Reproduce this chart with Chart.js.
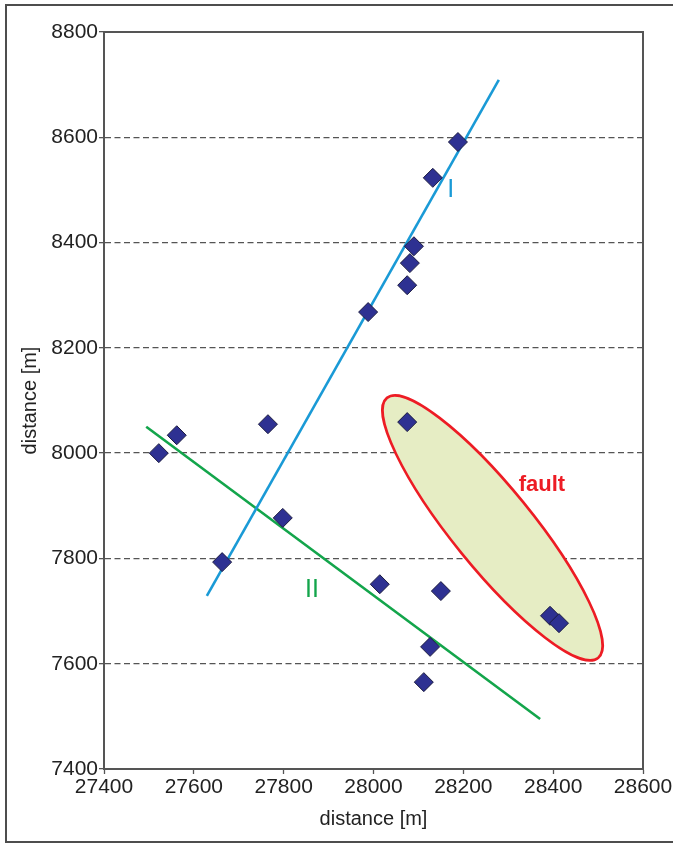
<!DOCTYPE html>
<html>
<head>
<meta charset="utf-8">
<title>distance [m]</title>
<script src="https://cdn.jsdelivr.net/npm/chart.js@4.4.0/dist/chart.umd.min.js"></script>
<style>
  html, body { margin: 0; padding: 0; background: #fff; overflow: hidden; }
  #wrap { position: relative; width: 673px; height: 844px; }
  #chart { position: absolute; left: 0; top: 0; }
  #frame {
    position: absolute; left: 5px; top: 4px; width: 720px; height: 839px;
    border: 2px solid #4d4d4d; box-sizing: border-box; pointer-events: none;
  }
</style>
</head>
<body>
<div id="wrap">
  <canvas id="chart" width="673" height="844"></canvas>
  <div id="frame"></div>
</div>
<script>
// Measured points (easting, northing) in metres
const pointX = [27522, 27562, 27765, 27798, 27663, 27988, 28075, 28081, 28090,
                28132, 28188, 28075, 28014, 28150, 28126, 28112, 28393, 28413];
const pointY = [8000, 8034, 8055, 7877, 7793, 8268, 8319, 8361, 8393,
                8523, 8591, 8059, 7751, 7738, 7632, 7565, 7691, 7677];

// Lineament I and II, end points
const lineIX = [27629, 28279];
const lineIY = [7729, 8709];
const lineIIX = [27494, 28371];
const lineIIY = [8050, 7495];

// Fault zone: the two ends of its long axis
const faultEndX = [28030, 28500];
const faultEndY = [8105, 7611];

// Axis ticks
const xTicks = [27400, 27600, 27800, 28000, 28200, 28400, 28600];
const yTicks = [7400, 7600, 7800, 8000, 8200, 8400, 8600, 8800];

// Text labels placed on the map
const labelText = ['I', 'II', 'fault'];
const labelX = [28172, 27863, 28375];
const labelY = [8500, 7740, 7939];

const FONT = "'Liberation Sans', Arial, Helvetica, sans-serif";
const AXIS = '#555555';
const BLUE = '#1a9ad6';
const GREEN = '#13a54b';
const RED = '#ed1c24';

const toXY = (xs, ys) => xs.map((x, i) => ({ x: x, y: ys[i] }));

const mapDecor = {
  id: 'mapDecor',
  beforeDatasetsDraw(chart) {
    const { ctx, chartArea: a, scales: { x, y } } = chart;
    // fault ellipse
    const x1 = x.getPixelForValue(faultEndX[0]), y1 = y.getPixelForValue(faultEndY[0]);
    const x2 = x.getPixelForValue(faultEndX[1]), y2 = y.getPixelForValue(faultEndY[1]);
    const cx = (x1 + x2) / 2, cy = (y1 + y2) / 2;
    const semiMajor = Math.hypot(x2 - x1, y2 - y1) / 2;
    const ang = Math.atan2(y2 - y1, x2 - x1);
    ctx.save();
    ctx.beginPath();
    ctx.ellipse(cx, cy, semiMajor, 40, ang, 0, Math.PI * 2);
    ctx.fillStyle = '#e6edc4';
    ctx.fill();
    ctx.lineWidth = 2.6;
    ctx.strokeStyle = RED;
    ctx.stroke();
    // plot frame
    ctx.lineWidth = 2;
    ctx.strokeStyle = AXIS;
    ctx.strokeRect(a.left, a.top, a.right - a.left, a.bottom - a.top);
    ctx.restore();
  },
  afterDatasetsDraw(chart) {
    const { ctx, scales: { x, y } } = chart;
    const styles = [
      { color: BLUE, font: '25px ' + FONT },
      { color: GREEN, font: '25px ' + FONT },
      { color: RED, font: 'bold 22px ' + FONT }
    ];
    ctx.save();
    ctx.textAlign = 'center';
    ctx.textBaseline = 'middle';
    labelText.forEach((t, i) => {
      ctx.fillStyle = styles[i].color;
      ctx.font = styles[i].font;
      ctx.fillText(t, x.getPixelForValue(labelX[i]), y.getPixelForValue(labelY[i]));
    });
    ctx.restore();
  }
};

new Chart(document.getElementById('chart'), {
  type: 'scatter',
  data: {
    datasets: [
      {
        label: 'points',
        data: toXY(pointX, pointY),
        pointStyle: 'rectRot',
        pointRadius: 9.5,
        pointHoverRadius: 9.5,
        backgroundColor: '#2e3192',
        borderColor: '#1c1c40',
        borderWidth: 1
      },
      {
        label: 'I',
        type: 'line',
        data: toXY(lineIX, lineIY),
        borderColor: BLUE,
        borderWidth: 2.6,
        pointRadius: 0,
        fill: false
      },
      {
        label: 'II',
        type: 'line',
        data: toXY(lineIIX, lineIIY),
        borderColor: GREEN,
        borderWidth: 2.6,
        pointRadius: 0,
        fill: false
      }
    ]
  },
  options: {
    responsive: false,
    animation: false,
    events: [],
    layout: { padding: { left: 0, top: 32, right: 30, bottom: 0 } },
    plugins: { legend: { display: false }, tooltip: { enabled: false } },
    scales: {
      x: {
        type: 'linear',
        min: 27400,
        max: 28600,
        afterBuildTicks: s => { s.ticks = xTicks.map(v => ({ value: v })); },
        afterFit: s => { s.height = 75; s.paddingLeft = 0; s.paddingRight = 0; },
        ticks: {
          autoSkip: false, maxRotation: 0, padding: 1,
          color: '#222', font: { family: FONT, size: 21 },
          callback: v => String(v)
        },
        grid: { color: 'rgba(0,0,0,0)', tickColor: AXIS, tickLength: 5, tickWidth: 1.3 },
        border: { display: true, color: AXIS, width: 2 },
        title: {
          display: true, text: 'distance [m]', color: '#222',
          font: { family: FONT, size: 20 }, padding: { top: 0, bottom: 13 }
        }
      },
      y: {
        type: 'linear',
        min: 7400,
        max: 8800,
        afterBuildTicks: s => { s.ticks = yTicks.map(v => ({ value: v })); },
        afterFit: s => { s.width = 104; s.paddingTop = 0; s.paddingBottom = 0; },
        ticks: {
          autoSkip: false, padding: 1,
          color: '#222', font: { family: FONT, size: 21 },
          callback: v => String(v)
        },
        grid: {
          color: c => (c.tick && (c.tick.value === 7400 || c.tick.value === 8800)) ? 'rgba(0,0,0,0)' : AXIS,
          lineWidth: 1.3,
          tickColor: AXIS, tickLength: 5, tickWidth: 1.3
        },
        border: { display: true, color: AXIS, width: 2, dash: [6, 3.5] },
        title: {
          display: true, text: 'distance [m]', color: '#222',
          font: { family: FONT, size: 20 }, padding: { top: 18, bottom: 0 }
        }
      }
    }
  },
  plugins: [mapDecor]
});
</script>
</body>
</html>
